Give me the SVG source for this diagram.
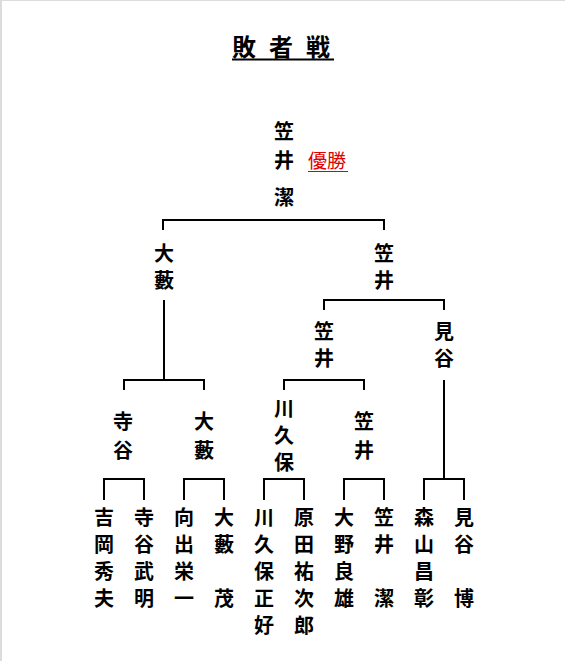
<svg xmlns="http://www.w3.org/2000/svg" width="565" height="661" viewBox="0 0 565 661">
<style>
.n{font-family:"Noto Sans CJK JP","Noto Sans CJK SC",sans-serif;font-weight:bold;font-size:20px;fill:#000;text-anchor:middle}
.t{font-family:"Noto Sans CJK JP",sans-serif;font-weight:bold;font-size:24px;fill:#000}
.w{font-family:"Noto Sans CJK JP",sans-serif;font-size:19px;fill:#e00000}
.c{fill:none;stroke:#000;stroke-width:2}
</style>
<rect width="565" height="661" fill="#fff"/>
<rect x="0" y="0" width="565" height="1" fill="#dcdcdc"/>
<rect x="0" y="0" width="2" height="661" fill="#dcdcdc"/>
<g id="title">
<text class="t" x="232" y="56" letter-spacing="13">敗者戦</text>
<line x1="232" y1="59.5" x2="334" y2="59.5" stroke="#000" stroke-width="2"/>
</g>
<g id="connectors" class="c">
<path d="M163,230V220H384V230"/>
<path d="M164,300V380M124,390V380H204V390"/>
<path d="M324,310V300H444V310"/>
<path d="M284,390V380H364V390"/>
<path d="M444,380V479M424,500V479H464V500"/>
<path d="M104,500V479H144V500"/>
<path d="M184,500V479H224V500"/>
<path d="M264,500V479H304V500"/>
<path d="M344,500V479H384V500"/>
</g>
<g id="champion">
<text class="n" x="284" y="139">笠</text>
<text class="n" x="284" y="168">井</text>
<text class="n" x="284" y="205">潔</text>
<text class="w" x="308" y="168">優勝</text>
<line x1="308" y1="171.5" x2="348" y2="171.5" stroke="#e00000" stroke-width="1"/>
</g>
<g id="r2-ooyabu"><text class="n" x="164" y="261">大</text><text class="n" x="164" y="288">藪</text></g>
<g id="r2-kasai"><text class="n" x="384" y="261">笠</text><text class="n" x="384" y="288">井</text></g>
<g id="r3-kasai"><text class="n" x="324" y="339">笠</text><text class="n" x="324" y="366">井</text></g>
<g id="r3-mitani"><text class="n" x="444" y="339">見</text><text class="n" x="444" y="366">谷</text></g>
<g id="r4-teraya"><text class="n" x="123" y="429">寺</text><text class="n" x="123" y="458">谷</text></g>
<g id="r4-ooyabu"><text class="n" x="204" y="429">大</text><text class="n" x="204" y="458">藪</text></g>
<g id="r4-kawakubo"><text class="n" x="284" y="416">川</text><text class="n" x="284" y="443">久</text><text class="n" x="284" y="470">保</text></g>
<g id="r4-kasai"><text class="n" x="364" y="429">笠</text><text class="n" x="364" y="458">井</text></g>
<g id="p1"><text class="n" x="104" y="525">吉</text><text class="n" x="104" y="552">岡</text><text class="n" x="104" y="579">秀</text><text class="n" x="104" y="606">夫</text></g>
<g id="p2"><text class="n" x="144" y="525">寺</text><text class="n" x="144" y="552">谷</text><text class="n" x="144" y="579">武</text><text class="n" x="144" y="606">明</text></g>
<g id="p3"><text class="n" x="184" y="525">向</text><text class="n" x="184" y="552">出</text><text class="n" x="184" y="579">栄</text><text class="n" x="184" y="606">一</text></g>
<g id="p4"><text class="n" x="224" y="525">大</text><text class="n" x="224" y="552">藪</text><text class="n" x="224" y="606">茂</text></g>
<g id="p5"><text class="n" x="264" y="525">川</text><text class="n" x="264" y="552">久</text><text class="n" x="264" y="579">保</text><text class="n" x="264" y="606">正</text><text class="n" x="264" y="633">好</text></g>
<g id="p6"><text class="n" x="304" y="525">原</text><text class="n" x="304" y="552">田</text><text class="n" x="304" y="579">祐</text><text class="n" x="304" y="606">次</text><text class="n" x="304" y="633">郎</text></g>
<g id="p7"><text class="n" x="344" y="525">大</text><text class="n" x="344" y="552">野</text><text class="n" x="344" y="579">良</text><text class="n" x="344" y="606">雄</text></g>
<g id="p8"><text class="n" x="384" y="525">笠</text><text class="n" x="384" y="552">井</text><text class="n" x="384" y="606">潔</text></g>
<g id="p9"><text class="n" x="424" y="525">森</text><text class="n" x="424" y="552">山</text><text class="n" x="424" y="579">昌</text><text class="n" x="424" y="606">彰</text></g>
<g id="p10"><text class="n" x="464" y="525">見</text><text class="n" x="464" y="552">谷</text><text class="n" x="464" y="606">博</text></g>
</svg>
